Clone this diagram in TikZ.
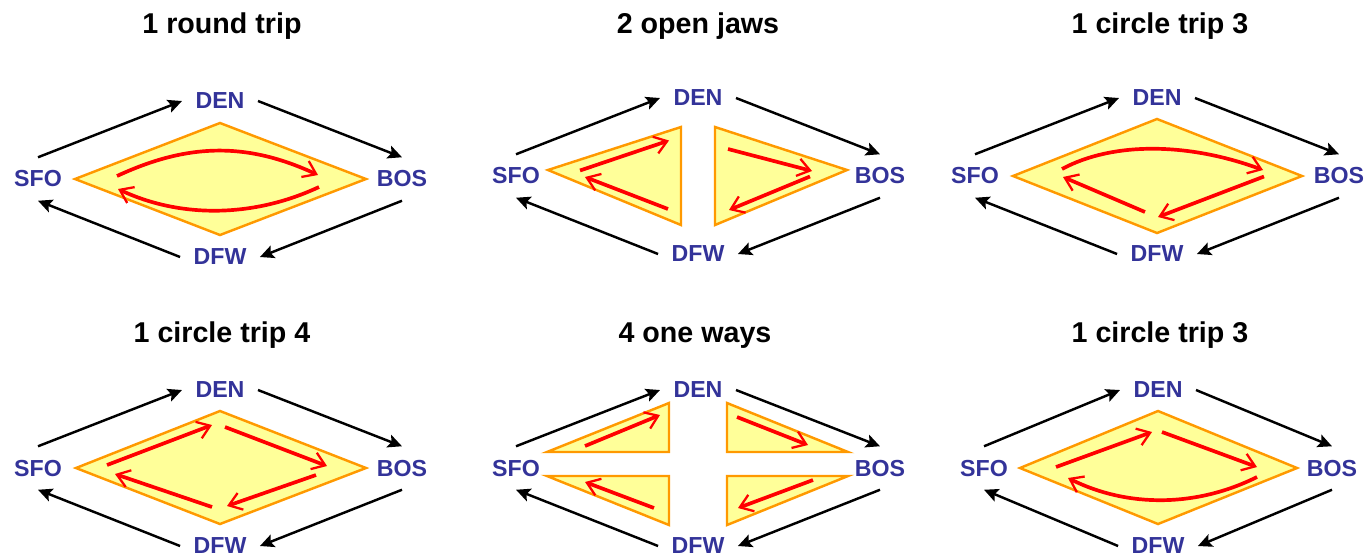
\documentclass[tikz,border=0pt]{standalone}
\usepackage{fontspec}
\setmainfont{Liberation Sans}
\usetikzlibrary{arrows.meta}

\definecolor{aptblue}{HTML}{333399}
\definecolor{trifill}{HTML}{FFFF99}
\definecolor{triedge}{HTML}{FF9900}

% the four airports and the black routes round them, #1 = half width
\newcommand{\airports}[1]{%
    \node[apt] (den) at (0,-78) {DEN};
    \node[apt] (sfo) at (-#1,0) {SFO};
    \node[apt] (bos) at (#1,0) {BOS};
    \node[apt] (dfw) at (0,78) {DFW};
    \draw[flight] (sfo.north) -- (den.west);
    \draw[flight] (den.east) -- (bos.north);
    \draw[flight] (bos.south) -- (dfw.east);
    \draw[flight] (dfw.west) -- (sfo.south);
}

\begin{document}
\begin{tikzpicture}[
    x = 0.02cm, y = -0.02cm, % one unit is one pixel, y downwards
    flight/.style = {-{Stealth[length=8pt,width=7.5pt,inset=1.5pt]}, line width=1.4pt}, % black route
    trip/.style = {red, line width=2.1pt, -{Straight Barb[length=7pt,width=10pt,line width=1.3pt]}}, % red ticket
    zone/.style = {draw=triedge, fill=trifill, line width=1.4pt},
    title/.style = {font=\fontsize{16.3}{19}\selectfont\bfseries, anchor=base}
    ]

    \tikzset{apt/.style={
    text = aptblue,
    font = \fontsize{13.2}{15}\selectfont\bfseries,
    inner sep = 7.5pt
    }}

    \useasboundingbox (0,0) rectangle (1368,556);

    \node[title] (t1) at (222,33) {1 round trip};
    \node[title] (t2) at (698,33) {2 open jaws};
    \node[title] (t3) at (1160,33) {1 circle trip 3};
    \node[title] (t4) at (222,342) {1 circle trip 4};
    \node[title] (t5) at (695,342) {4 one ways};
    \node[title] (t6) at (1160,342) {1 circle trip 3};

    % round trip
    \begin{scope}[shift={(220,179)}, name prefix=p1-]
    \draw[zone] (0,-56) -- (146,0) -- (0,56) -- (-145,0) -- cycle;
    \airports{182}
    \draw[trip] (-103,-3) .. controls (-32,-36) and (27,-37) .. (98,-4);
    \draw[trip] (99,8) .. controls (35,38) and (-38,40) .. (-102,10);
    \end{scope}

    % open jaws
    \begin{scope}[shift={(698,176)}, name prefix=p2-]
    \draw[zone] (-150,-6) -- (-17,-49) -- (-17,49) -- cycle;
    \draw[zone] (17,-49) -- (149,-6) -- (17,49) -- cycle;
    \airports{182}
    \draw[trip] (-118,-5.5) -- (-29,-35.5);
    \draw[trip] (-30,33) -- (-113,1);
    \draw[trip] (30,-27) -- (114,-5);
    \draw[trip] (112,0.5) -- (31,34);
    \end{scope}

    % circle trip 3
    \begin{scope}[shift={(1157,176)}, name prefix=p3-]
    \draw[zone] (0,-57) -- (145,0) -- (0,57) -- (-144,0) -- cycle;
    \airports{182}
    \draw[trip] (-95,-7) .. controls (-45,-34) and (30,-34) .. (106,-6);
    \draw[trip] (107,0.5) -- (1,41);
    \draw[trip] (-12,36) -- (-94,1);
    \end{scope}

    % circle trip 4
    \begin{scope}[shift={(220,468)}, name prefix=p4-]
    \draw[zone] (0,-57) -- (146,0) -- (0,56) -- (-144,0) -- cycle;
    \airports{182}
    \draw[trip] (-113,-3) -- (-8,-43);
    \draw[trip] (5,-41) -- (107,-2);
    \draw[trip] (96,7) -- (7,38);
    \draw[trip] (-8,39) -- (-105,6);
    \end{scope}

    % one ways
    \begin{scope}[shift={(698,468)}, name prefix=p5-]
    \draw[zone] (-151,-16) -- (-29,-65) -- (-29,-16) -- cycle;
    \draw[zone] (-151,8) -- (-29,8) -- (-29,57) -- cycle;
    \draw[zone] (29,-65) -- (150,-16) -- (29,-16) -- cycle;
    \draw[zone] (29,8) -- (150,8) -- (29,57) -- cycle;
    \airports{182}
    \draw[trip] (-113,-22) -- (-38,-53);
    \draw[trip] (39,-51) -- (110,-23);
    \draw[trip] (115,12) -- (40,40);
    \draw[trip] (-44,40) -- (-113,14);
    \end{scope}

    % circle trip 3, other way round
    \begin{scope}[shift={(1158,468)}, name prefix=p6-]
    \draw[zone] (0,-57) -- (139,0) -- (0,56) -- (-138,0) -- cycle;
    \airports{174}
    \draw[trip] (-102,-1) -- (-6,-36);
    \draw[trip] (4,-36) -- (99,-1);
    \draw[trip] (99,9) .. controls (39,39) and (-30,40) .. (-90,10);
    \end{scope}
\end{tikzpicture}
\end{document}
